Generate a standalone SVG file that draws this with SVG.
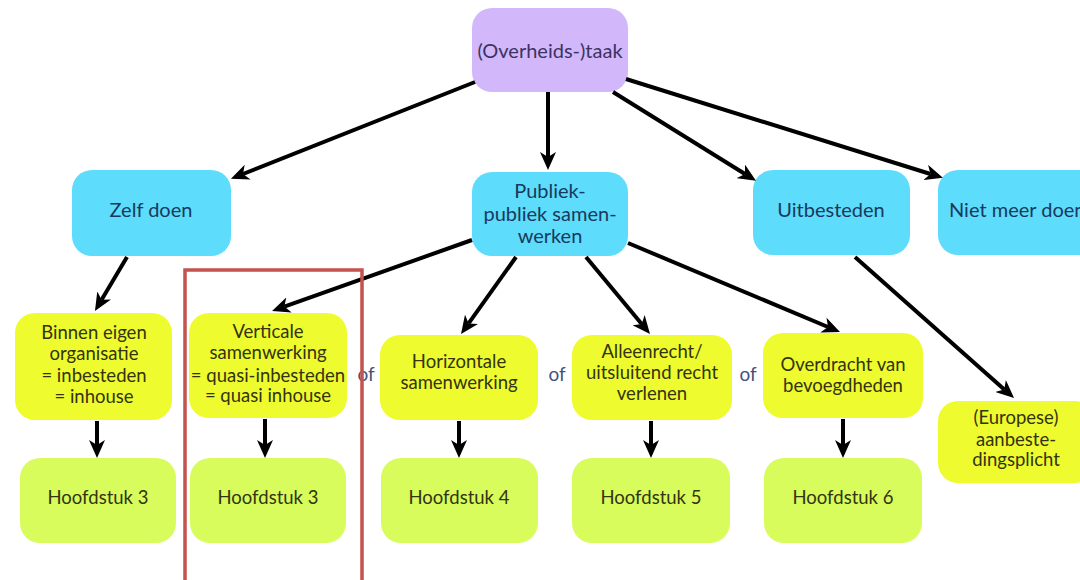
<svg xmlns="http://www.w3.org/2000/svg" width="1080" height="580" viewBox="0 0 1080 580">
<style>
  text { font-family: Lato, "Open Sans", "Liberation Sans", sans-serif; font-size: 18.5px; text-anchor: middle; }
  .big { font-size: 20px; }
  .purple { fill: #D2B8FA; }
  .blue { fill: #5EDCFC; }
  .yellow { fill: #EEFB2E; }
  .green { fill: #D7FC5C; }
  .tp { fill: #3D3262; }
  .tb { fill: #173A5C; }
  .ty { fill: #33340F; }
  .of { fill: #44507E; font-size: 19px; }
  .conn line { stroke: #000; stroke-width: 4; marker-end: url(#ah); }
</style>
<defs>
  <marker id="ah" markerUnits="userSpaceOnUse" markerWidth="18" markerHeight="16" viewBox="0 0 18 16" refX="5" refY="8" orient="auto">
    <path d="M0,0 L18,8 L0,16 L5,8 z" fill="#000"/>
  </marker>
</defs>
<rect width="1080" height="580" fill="#fff"/>

<g id="taak"><rect class="purple" x="472" y="8" width="156" height="84" rx="20"/><text class="tp big" x="550" y="58">(Overheids-)taak</text></g>

<g id="zelf"><rect class="blue" x="72" y="170" width="159" height="86" rx="20"/><text class="tb big" x="151" y="217">Zelf doen</text></g>
<g id="publiek"><rect class="blue" x="472" y="172" width="156" height="84" rx="20"/><text class="tb big" x="550" y="198">Publiek-</text><text class="tb big" x="550" y="221">publiek samen-</text><text class="tb big" x="550" y="243">werken</text></g>
<g id="uitbesteden"><rect class="blue" x="753" y="170" width="157" height="85" rx="20"/><text class="tb big" x="831" y="217">Uitbesteden</text></g>
<g id="nietmeer"><rect class="blue" x="938" y="170" width="160" height="85" rx="20"/><text class="tb big" x="949" y="217" style="text-anchor:start">Niet meer doen</text></g>

<g id="binnen"><rect class="yellow" x="15" y="313" width="157" height="107" rx="20"/><text class="ty" x="94" y="339">Binnen eigen</text><text class="ty" x="94" y="360">organisatie</text><text class="ty" x="94" y="382">= inbesteden</text><text class="ty" x="94" y="403">= inhouse</text></g>
<g id="verticale"><rect class="yellow" x="189" y="313" width="158" height="105" rx="20"/><text class="ty" x="268" y="338">Verticale</text><text class="ty" x="268" y="359">samenwerking</text><text class="ty" x="268" y="382">= quasi-inbesteden</text><text class="ty" x="268" y="402">= quasi inhouse</text></g>
<g id="horizontale"><rect class="yellow" x="380" y="335" width="158" height="85" rx="20"/><text class="ty" x="459" y="368">Horizontale</text><text class="ty" x="459" y="389">samenwerking</text></g>
<g id="alleenrecht"><rect class="yellow" x="572" y="335" width="160" height="85" rx="20"/><text class="ty" x="652" y="358">Alleenrecht/</text><text class="ty" x="652" y="379">uitsluitend recht</text><text class="ty" x="652" y="400">verlenen</text></g>
<g id="overdracht"><rect class="yellow" x="763" y="333" width="160" height="85" rx="20"/><text class="ty" x="843" y="371">Overdracht van</text><text class="ty" x="843" y="392">bevoegdheden</text></g>
<g id="europese"><rect class="yellow" x="938" y="401" width="157" height="82" rx="20"/><text class="ty" x="1016" y="424">(Europese)</text><text class="ty" x="1016" y="446">aanbeste-</text><text class="ty" x="1016" y="466">dingsplicht</text></g>

<g id="h3a"><rect class="green" x="20" y="458" width="156" height="85" rx="20"/><text class="ty" x="98" y="504">Hoofdstuk 3</text></g>
<g id="h3b"><rect class="green" x="190" y="458" width="156" height="85" rx="20"/><text class="ty" x="268" y="504">Hoofdstuk 3</text></g>
<g id="h4"><rect class="green" x="381" y="458" width="157" height="85" rx="20"/><text class="ty" x="459" y="504">Hoofdstuk 4</text></g>
<g id="h5"><rect class="green" x="572" y="458" width="158" height="85" rx="20"/><text class="ty" x="651" y="504">Hoofdstuk 5</text></g>
<g id="h6"><rect class="green" x="764" y="458" width="158" height="85" rx="20"/><text class="ty" x="843" y="504">Hoofdstuk 6</text></g>

<g id="of-labels">
  <text class="of" x="366" y="381">of</text>
  <text class="of" x="557" y="381">of</text>
  <text class="of" x="748" y="381">of</text>
</g>

<g class="conn" id="connectors">
  <line x1="475" y1="82" x2="243" y2="174"/>
  <line x1="548" y1="92" x2="548" y2="157"/>
  <line x1="613" y1="92" x2="745" y2="174"/>
  <line x1="626" y1="79" x2="930.5" y2="174"/>
  <line x1="127" y1="257" x2="101.6" y2="299.8"/>
  <line x1="472" y1="240" x2="284.3" y2="306.6"/>
  <line x1="516" y1="257" x2="468.6" y2="323.4"/>
  <line x1="586" y1="257" x2="641.7" y2="324"/>
  <line x1="628" y1="243" x2="828" y2="327"/>
  <line x1="855" y1="257" x2="1004.3" y2="389.4"/>
  <line x1="97" y1="421" x2="97" y2="445"/>
  <line x1="265" y1="419" x2="265" y2="445"/>
  <line x1="459" y1="421" x2="459" y2="445"/>
  <line x1="651" y1="421" x2="651" y2="445"/>
  <line x1="843" y1="419" x2="843" y2="445"/>
</g>

<rect id="highlight" x="185" y="270" width="177" height="320" fill="none" stroke="#C4524F" stroke-width="3.5"/>
</svg>
